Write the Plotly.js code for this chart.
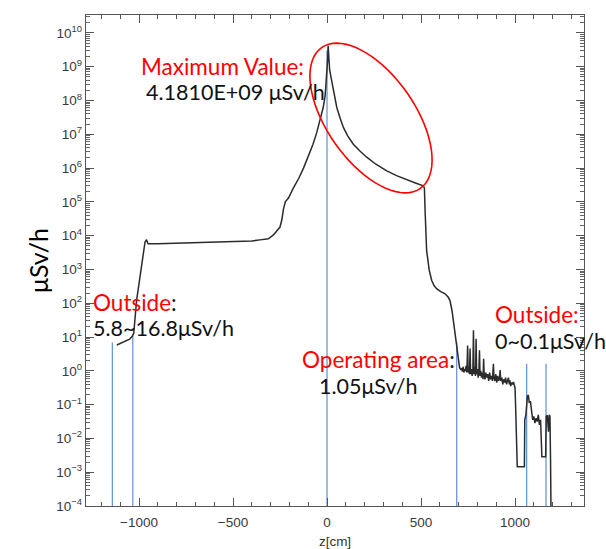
<!DOCTYPE html>
<html>
<head>
<meta charset="utf-8">
<script src="https://cdn.plot.ly/plotly-3.0.1.min.js"></script>
<style>html,body{margin:0;padding:0;background:#fff;}#chart{width:606px;height:549px;}</style>
</head>
<body>
<div id="chart"></div>
<script>
// ---- data (z in cm, dose rate in µSv/h) ----
const zCm = [
  -1118, -1105, -1090, -1070, -1050, -1036, -1028, -1013, -995, -981, -968, -960, -952,
  -900, -853, -800, -700, -605, -500, -400, -356, -312, -285, -265, -250, -240, -232,
  -222, -205, -180, -150, -125, -100, -75, -55, -37, -20, -10, -3, 3, 6,
  10, 14, 25, 40, 52, 70, 87, 110, 140, 175, 211, 260, 318, 370, 424, 470, 512,
  518, 522, 527, 530, 544, 557, 570, 583, 605, 628, 645, 654, 665, 672, 680, 686, 693, 699,
  705, 710, 715, 720, 725, 728, 732, 736, 740, 744, 748, 751, 755, 758, 761, 764, 768, 772,
  776, 779, 782, 786, 790, 793, 796, 800, 804, 808, 811, 814, 818, 822, 826, 830, 833, 836,
  840, 845, 850, 855, 860, 865, 870, 875, 880, 885, 888, 893, 898, 903, 908, 913, 918, 921,
  924, 930, 935, 940, 945, 950, 955, 960, 965, 970, 973, 977, 982, 987, 992, 996, 1000,
  1003, 1006, 1009, 1012, 1050, 1052, 1058, 1062, 1066, 1071, 1076, 1082, 1088, 1094, 1100,
  1106, 1112, 1118, 1124, 1130, 1136, 1140, 1143, 1163, 1166, 1172, 1178, 1182, 1186, 1189, 1192
];
const doseUSvh = [
  5.8, 6.3, 7.0, 7.8, 8.6, 10.5, 13, 120, 590, 2900, 6500, 7600, 5800,
  5800, 5900, 6000, 6200, 6400, 6600, 7000, 7500, 8100, 10500, 14000, 18000, 30000, 60000,
  1.0e5, 1.3e5, 2.5e5, 5.0e5, 1.0e6, 2.2e6, 5.0e6, 1.1e7, 2.5e7, 6.3e7, 1.4e8, 4.0e8, 1.5e9, 4.181e9,
  1.5e9, 8.0e8, 3.8e8, 1.3e8, 6.2e7, 3.0e7, 1.6e7, 9.0e6, 5.1e6, 3.2e6, 2.1e6, 1.3e6, 8.3e5, 6.0e5, 4.5e5, 3.6e5, 3.0e5,
  2.6e5, 5.0e4, 1.2e4, 3600, 930, 470, 330, 270, 220, 190, 150, 120, 60, 31, 15, 8, 3.5, 1.78,
  1.26, 1.12, 1.20, 0.955, 1.32, 0.891, 1.12, 1.0, 1.41, 0.891, 5.62, 0.891, 1.26, 0.794, 4.57, 0.794, 1.12, 0.708,
  1.0, 15.8, 0.794, 1.26, 0.708, 8.91, 0.794, 1.12, 0.631, 1.0, 4.07, 0.708, 1.0, 0.631, 0.891, 0.562, 2.29, 0.794,
  0.562, 0.891, 0.631, 0.794, 0.501, 0.891, 0.562, 0.708, 0.501, 1.62, 0.631, 0.501, 0.794, 0.447, 0.708, 0.501, 0.631, 1.05,
  0.501, 0.631, 0.398, 0.562, 0.447, 0.631, 0.398, 0.501, 0.631, 0.398, 0.525, 0.355, 0.447, 0.398, 0.468, 0.380, 0.316,
  0.1, 0.0251, 0.005, 0.00145, 0.00145, 0.0355, 0.050, 0.126, 0.178, 0.191, 0.112, 0.126, 0.063, 0.0355, 0.0447,
  0.0282, 0.0398, 0.0316, 0.050, 0.0251, 0.0355, 0.0126, 0.00288, 0.00288, 0.0447, 0.048, 0.0158, 0.050, 0.0447, 0.00229, 0.0000316
];

// reference (blue) position lines: z position and the dose level they reach
const refLineZ = [-1142, -1033, 0, 690, 1062, 1165];
const refLineTop = [6.9, 11.2, 3.0e9, 7.1, 1.62, 1.62];
const refLineBottom = 1e-4;

// y tick labels
const yTickVals = [1e-4, 1e-3, 1e-2, 1e-1, 1, 10, 100, 1e3, 1e4, 1e5, 1e6, 1e7, 1e8, 1e9, 1e10];
const yTickText = ['10<sup>−4</sup>', '10<sup>−3</sup>', '10<sup>−2</sup>', '10<sup>−1</sup>', '10<sup>0</sup>',
  '10<sup>1</sup>', '10<sup>2</sup>', '10<sup>3</sup>', '10<sup>4</sup>', '10<sup>5</sup>', '10<sup>6</sup>',
  '10<sup>7</sup>', '10<sup>8</sup>', '10<sup>9</sup>', '10<sup>10</sup>'];

// annotation texts (label lines in red, value lines in black)
const noteTexts = [
  '<span style="color:#ff0000">Maximum Value:</span>',
  '4.1810E+09 μSv/h',
  '<span style="color:#ff0000">Outside</span>:',
  '5.8~16.8μSv/h',
  '<span style="color:#ff0000">Operating area</span>:',
  '1.05μSv/h',
  '<span style="color:#ff0000">Outside:</span>',
  '0~0.1μSv/h'
];
const noteIsLabel = [true, false, true, false, true, false, true, false];

// ---- layout geometry (pixels) ----
const W = 606, H = 549;
const M = {l: 86, r: 22, t: 15, b: 43};
const PW = W - M.l - M.r, PH = H - M.t - M.b;
const px2paperX = px => (px - M.l) / PW;
const py2paperY = py => (H - M.b - py) / PH;

const notePos = [[139, 66], [144, 92], [91, 302], [91, 328], [300, 359], [317, 386], [493, 315], [493, 341]];

// minor log ticks
const minorVals = [];
for (let e = -4; e <= 10; e++) for (let k = 2; k <= 9; k++) minorVals.push(k * Math.pow(10, e));

// blue reference lines from arrays
const refX = [], refY = [];
refLineZ.forEach((z, i) => { refX.push(z, z, null); refY.push(refLineBottom, refLineTop[i], null); });

// ellipse (decoration) in pixels -> paper path
const ell = {cx: 371, cy: 118, a: 86, b: 44, th: 55 * Math.PI / 180};
let path = '';
for (let i = 0; i <= 72; i++) {
  const t = i / 72 * 2 * Math.PI;
  const px = ell.cx + ell.a * Math.cos(t) * Math.cos(ell.th) - ell.b * Math.sin(t) * Math.sin(ell.th);
  const py = ell.cy + ell.a * Math.cos(t) * Math.sin(ell.th) + ell.b * Math.sin(t) * Math.cos(ell.th);
  path += (i === 0 ? 'M ' : ' L ') + px2paperX(px).toFixed(5) + ',' + py2paperY(py).toFixed(5);
}
path += ' Z';

const traces = [
  {x: refX, y: refY, type: 'scatter', mode: 'lines', line: {color: '#5b8fd4', width: 1.2},
   hoverinfo: 'skip', showlegend: false, connectgaps: false},
  {x: zCm, y: doseUSvh, type: 'scatter', mode: 'lines', line: {color: '#2b2b2b', width: 1.5},
   showlegend: false, name: 'dose'}
];

const tickFont = {family: '"Liberation Sans", Arial, sans-serif', size: 13.5, color: '#3a3a3a'};
const noteFamily = 'Lato, "Noto Sans", sans-serif';

const layout = {
  width: W, height: H,
  margin: M,
  paper_bgcolor: '#ffffff', plot_bgcolor: '#ffffff',
  showlegend: false,
  xaxis: {
    range: [-1282, 1367], tick0: 0, dtick: 500,
    ticks: 'inside', ticklen: 8, tickwidth: 1, tickcolor: '#555',
    showline: true, linecolor: '#555', linewidth: 1.3, mirror: 'ticks',
    showgrid: false, zeroline: false, tickfont: tickFont, ticklabelstandoff: 3,
    minor: {dtick: 100, tick0: 0, ticks: 'inside', ticklen: 4, tickcolor: '#555', showgrid: false},
    title: {text: 'z[cm]', font: {family: '"Liberation Sans", Arial, sans-serif', size: 13.5, color: '#333'}, standoff: 9}
  },
  yaxis: {
    type: 'log', range: [-4, 10.53],
    tickmode: 'array', tickvals: yTickVals, ticktext: yTickText,
    ticks: 'inside', ticklen: 8, tickwidth: 1, tickcolor: '#555',
    showline: true, linecolor: '#555', linewidth: 1.3, mirror: 'ticks',
    showgrid: false, zeroline: false, tickfont: tickFont,
    minor: {tickmode: 'array', tickvals: minorVals, ticks: 'inside', ticklen: 4, tickcolor: '#666', showgrid: false},
    title: {text: 'μSv/h', font: {family: noteFamily, size: 25, color: '#000'}, standoff: 0}
  },
  shapes: [{type: 'path', xref: 'paper', yref: 'paper', path: path, line: {color: '#ff0000', width: 1.6}, fillcolor: 'rgba(0,0,0,0)'}],
  annotations: noteTexts.map((t, i) => ({
    text: t, xref: 'paper', yref: 'paper', x: px2paperX(notePos[i][0]), y: py2paperY(notePos[i][1]),
    xanchor: 'left', yanchor: 'middle', showarrow: false,
    font: {family: noteFamily, size: noteIsLabel[i] ? 22.5 : 21.5, color: '#111111'}
  }))
};

Plotly.newPlot('chart', traces, layout, {staticPlot: true, displayModeBar: false});
</script>
</body>
</html>
